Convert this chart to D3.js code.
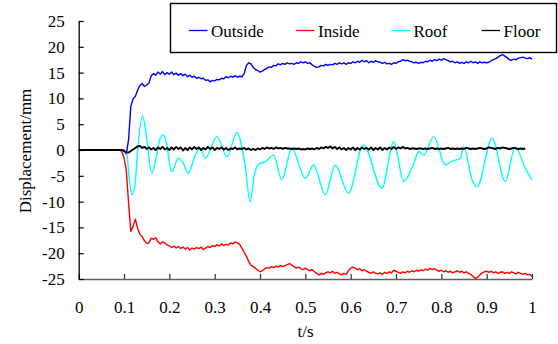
<!DOCTYPE html>
<html><head><meta charset="utf-8">
<script src="https://cdn.jsdelivr.net/npm/d3@7"></script>
<style>
html,body{margin:0;padding:0;background:#fff;}
svg text{font-family:"Liberation Serif","Times New Roman",Times,serif;font-size:17px;fill:#000;}
</style></head>
<body><svg id="c" width="558" height="344"></svg>
<script>
// ---- data ----
const xTicks = [0,0.1,0.2,0.3,0.4,0.5,0.6,0.7,0.8,0.9,1];
const xTickLabels = ["0","0.1","0.2","0.3","0.4","0.5","0.6","0.7","0.8","0.9","1"];
const yTicks = [-25,-20,-15,-10,-5,0,5,10,15,20,25];
const yTickLabels = ["-25","-20","-15","-10","-5","0","5","10","15","20","25"];
const seriesNames = ["Outside","Inside","Roof","Floor"];
const seriesColors = ["#0000ff","#ff0000","#00ffff","#000000"];

// sampling grid for the noisy records: t = 0.100, 0.105, ... (quiet lead-in at 0 before)
const leadT = [0, 0.09, 0.095];
const gridStart = 0.1, gridStep = 0.005;

const outsideLead = [0, 0, 0];
const outsideV = [
 0,-0.8,2.0,8.5,9.9,10.4,11.6,12.5,12.9,12.3,
 12.6,13.0,14.4,14.8,14.5,15.1,14.7,15.2,14.6,15.0,
 14.7,15.1,14.6,14.9,14.5,14.8,14.4,14.7,14.2,14.5,
 14.1,14.3,13.9,14.1,13.8,13.9,13.5,13.6,13.2,13.5,
 13.4,13.7,13.6,13.9,13.8,14.2,14.0,14.3,14.1,14.4,
 14.1,14.3,14.2,14.8,16.4,16.9,16.7,16.0,15.6,15.4,
 15.1,15.3,15.6,15.8,16.1,16.0,16.4,16.3,16.7,16.5,
 16.8,16.6,16.9,16.7,16.8,16.6,16.9,16.8,17.1,16.9,
 17.1,16.8,16.9,16.5,16.2,16.0,16.1,16.4,16.3,16.6,
 16.4,16.6,16.5,16.8,16.6,16.9,16.7,16.9,16.6,16.9,
 16.8,17.1,16.9,17.2,17.0,17.4,17.1,17.3,16.9,17.2,
 17.0,17.3,17.1,17.0,16.8,17.0,16.7,16.8,16.6,16.9,
 16.8,17.1,17.2,17.5,17.3,17.4,17.2,17.1,16.9,17.0,
 16.8,17.0,16.9,17.2,17.1,17.4,17.2,17.5,17.3,17.6,
 17.4,17.7,17.5,17.3,17.1,17.2,16.9,17.1,16.8,17.0,
 16.8,17.1,16.9,17.2,16.9,17.1,16.8,17.1,16.9,17.0,
 16.9,17.0,17.3,17.5,17.7,18.0,18.3,18.5,18.2,17.9,
 17.5,17.4,17.6,17.5,17.8,17.9,18.0,17.8,17.7,17.9,
 17.6];

const insideLead = [0, 0, -0.3];
const insideV = [
 -1.5,-3.9,-10.3,-15.8,-14.8,-13.4,-15.2,-16.3,-16.8,-17.6,
 -18.1,-18.0,-17.1,-17.3,-17.0,-17.8,-18.2,-17.8,-18.0,-18.4,
 -18.6,-18.9,-18.6,-19.0,-18.7,-19.1,-18.8,-19.2,-18.9,-19.4,
 -19.0,-19.2,-18.9,-19.1,-18.8,-19.3,-19.0,-18.7,-18.9,-18.5,
 -18.7,-18.4,-18.6,-18.2,-18.5,-18.3,-18.4,-18.0,-18.2,-17.8,
 -18.0,-18.3,-19.0,-19.8,-20.6,-21.6,-22.3,-22.6,-22.9,-23.3,
 -23.6,-23.4,-23.0,-22.8,-22.9,-22.6,-22.8,-22.5,-22.7,-22.4,
 -22.6,-22.4,-22.2,-22.0,-22.3,-22.6,-22.9,-22.7,-23.0,-23.2,
 -22.9,-23.2,-23.4,-23.2,-23.6,-23.9,-24.2,-23.9,-24.1,-23.8,
 -23.6,-23.8,-23.5,-23.9,-23.7,-24.0,-24.2,-23.9,-24.1,-23.4,
 -22.9,-22.7,-22.9,-23.2,-23.0,-23.4,-23.2,-23.5,-23.7,-23.9,
 -23.6,-23.9,-24.0,-23.8,-24.1,-23.7,-23.9,-23.6,-23.8,-23.3,
 -23.5,-23.7,-23.9,-23.6,-23.8,-23.5,-23.7,-23.4,-23.6,-23.3,
 -23.5,-23.2,-23.4,-23.1,-23.3,-22.9,-23.2,-23.0,-23.3,-23.5,
 -23.3,-23.6,-23.4,-23.7,-23.5,-23.8,-23.6,-23.4,-23.7,-23.5,
 -23.8,-23.6,-23.9,-24.1,-24.5,-24.9,-24.7,-24.2,-23.8,-23.6,
 -23.5,-23.7,-23.5,-23.8,-23.6,-23.9,-23.7,-23.6,-23.9,-23.7,
 -23.9,-23.6,-23.8,-24.0,-23.7,-23.9,-24.1,-23.9,-24.2,-24.1,
 -24.5];

const floorLead = [0, 0, 0];
const floorV = [
 -0.2,-0.4,-0.5,-0.2,0.1,0.4,0.7,0.8,0.4,0.6,
 0.2,0.5,0.1,0.4,0.0,0.5,0.2,0.6,0.1,0.4,
 0.0,0.5,0.1,0.6,0.2,0.5,-0.1,0.4,0.0,0.5,
 0.1,0.6,0.2,0.5,0.0,0.4,0.1,0.6,0.2,0.5,
 0.0,0.4,0.2,0.5,0.1,0.4,0.0,0.3,0.2,0.5,
 0.1,0.3,0.2,0.4,0.1,0.3,0.0,0.2,0.0,0.3,
 0.1,0.4,0.2,0.5,0.3,0.4,0.2,0.5,0.3,0.4,
 0.2,0.4,0.3,0.3,0.2,0.3,0.2,0.3,0.1,0.2,
 0.1,0.3,0.2,0.3,0.1,0.4,0.2,0.5,0.3,0.6,
 0.4,0.7,0.3,0.6,0.2,0.5,0.1,0.4,0.0,0.4,
 0.1,0.5,0.0,0.4,0.1,0.5,0.2,0.4,0.1,0.5,
 0.0,0.4,0.1,0.5,0.0,0.4,0.1,0.5,0.2,0.6,
 0.2,0.5,0.3,0.6,0.3,0.4,0.2,0.3,0.3,0.2,
 0.3,0.3,0.2,0.3,0.2,0.3,0.4,0.2,0.3,0.2,
 0.3,0.2,0.3,0.4,0.2,0.3,0.2,0.3,0.2,0.3,
 0.2,0.4,0.3,0.2,0.3,0.2,0.3,0.4,0.3,0.2,
 0.3,0.5,0.4,0.3,0.2,0.4,0.3,0.5,0.4,0.3,
 0.2,0.3,0.4,0.3,0.2,0.3,0.2,0.3];

// roof: smooth oscillation, read at its turning points
const roofT = [0,0.09,0.1,0.106,0.11,0.117,0.124,0.131,0.141,0.15,0.161,0.172,0.18,0.188,0.194,0.205,0.22,0.231,0.242,0.257,0.268,0.279,0.305,0.327,0.349,0.367,0.378,0.389,0.4,0.411,0.43,0.448,0.47,0.5,0.518,0.544,0.566,0.595,0.628,0.669,0.695,0.717,0.739,0.75,0.761,0.783,0.809,0.82,0.842,0.849,0.868,0.879,0.912,0.941,0.963,0.985,1.0];
const roofV = [0,0,-0.3,-0.6,-4.2,-8.7,-6.8,1.0,6.6,2.3,-4.5,-1.0,2.3,2.9,1.0,-4.2,-1.6,-2.6,-4.5,-1.0,0.3,-1.6,2.6,-1.3,3.4,-2.9,-10.0,-4.2,-2.6,-2.3,-1.0,-5.8,0.3,-5.5,-2.9,-8.7,-2.9,-8.4,1.0,-7.4,1.6,-6.1,-2.6,-0.3,-1.0,2.6,-2.9,-2.3,-1.6,0.6,-5.8,-7.1,2.3,-6.1,0.6,-3.5,-5.8];

// ---- build ----
function gridSeries(lead, vals){
  const pts = lead.map((v,i)=>[leadT[i], v]);
  vals.forEach((v,i)=>pts.push([gridStart + i*gridStep, v]));
  return pts;
}
const data = [
  gridSeries(outsideLead, outsideV),
  gridSeries(insideLead, insideV),
  roofT.map((t,i)=>[t, roofV[i]]),
  gridSeries(floorLead, floorV)
];

const FONT = '"Liberation Serif","Times New Roman",Times,serif';
const svg = d3.select("#c");
const x = d3.scaleLinear().domain([0,1]).range([78.7,532]);
const y = d3.scaleLinear().domain([-25,25]).range([279,21]);

// axes
const xAxis = d3.axisBottom(x).tickValues(xTicks).tickFormat((d,i)=>xTickLabels[i])
  .tickSizeInner(-5).tickSizeOuter(0).tickPadding(21.5);
const gx = svg.append("g").attr("transform","translate(0,279)").call(xAxis)
  .attr("font-family",FONT).attr("font-size",17);
gx.select(".domain").attr("stroke","#606060").attr("stroke-width",1.4);
gx.selectAll(".tick line").attr("stroke","#303030").attr("stroke-width",1.2);

const yAxis = d3.axisLeft(y).tickValues(yTicks).tickFormat((d,i)=>yTickLabels[i])
  .tickSizeInner(-5).tickSizeOuter(0).tickPadding(14);
const gy = svg.append("g").attr("transform","translate(78.7,0)").call(yAxis)
  .attr("font-family",FONT).attr("font-size",17);
gy.select(".domain").attr("stroke","#000").attr("stroke-width",1.3);
gy.selectAll(".tick line").attr("stroke","#000").attr("stroke-width",1.2);

// axis titles
svg.append("text").attr("x",305.5).attr("y",337).attr("text-anchor","middle")
  .attr("font-family",FONT).text("t/s");
svg.append("text").attr("transform","translate(31,151) rotate(-90)").attr("text-anchor","middle")
  .attr("font-family",FONT).text("Displacement/mm");

// lines
const widths = [1.4,1.4,1.4,1.9];
data.forEach((pts,i)=>{
  const line = d3.line().x(d=>x(d[0])).y(d=>y(d[1]))
    .curve(i===2 ? d3.curveMonotoneX : d3.curveLinear);
  svg.append("path").datum(pts).attr("fill","none")
    .attr("stroke",seriesColors[i]).attr("stroke-width",widths[i])
    .attr("stroke-linejoin","round").attr("d",line);
});

// legend
const lg = svg.append("g");
lg.append("rect").attr("x",170.5).attr("y",3.5).attr("width",386).attr("height",49)
  .attr("fill","#fff").attr("stroke","#000").attr("stroke-width",1.4);
const legX = [189,296,391.5,481.5];
seriesNames.forEach((n,i)=>{
  lg.append("line").attr("x1",legX[i]).attr("x2",legX[i]+18.5).attr("y1",30.5).attr("y2",30.5)
    .attr("stroke",seriesColors[i]).attr("stroke-width",1.3);
  lg.append("text").attr("x",legX[i]+22).attr("y",36.5).attr("font-family",FONT).text(n);
});
</script></body></html>
